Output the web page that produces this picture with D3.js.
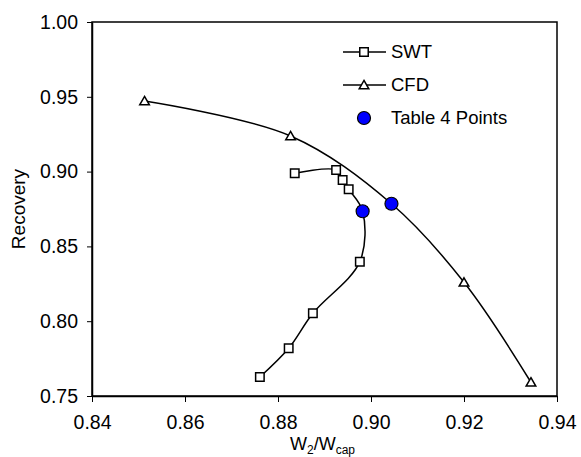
<!DOCTYPE html>
<html>
<head>
<meta charset="utf-8">
<script src="https://cdn.jsdelivr.net/npm/d3@7"></script>
<style>
  body { margin: 0; background: #fff; }
  svg text { font-family: "Liberation Sans", Arial, sans-serif; fill: #000; }
</style>
</head>
<body>
<div id="chart"></div>
<script>
// data
const swtX = [0.8761, 0.8823, 0.8875, 0.8976, 0.8982, 0.8952, 0.8939, 0.8925, 0.8836];
const swtY = [0.7627, 0.7819, 0.8053, 0.8398, 0.8735, 0.8882, 0.8944, 0.9011, 0.8989];
const cfdX = [0.8513, 0.8827, 0.9044, 0.9200, 0.9344];
const cfdY = [0.9472, 0.9238, 0.8785, 0.8260, 0.7592];
const tableX = [0.8982, 0.9044];
const tableY = [0.8735, 0.8785];
const xTicks = [0.84, 0.86, 0.88, 0.90, 0.92, 0.94];
const yTicks = [0.75, 0.80, 0.85, 0.90, 0.95, 1.00];
const legendLabels = ["SWT", "CFD", "Table 4 Points"];

const C = { WIDTH: 581, HEIGHT: 457, LEFT: 92, RIGHT: 557, TOP: 22, BOTTOM: 396 };

const svg = d3.select("#chart").append("svg")
  .attr("width", C.WIDTH).attr("height", C.HEIGHT);

const x = d3.scaleLinear().domain([0.84, 0.94]).range([C.LEFT, C.RIGHT]);
const y = d3.scaleLinear().domain([0.75, 1.00]).range([C.BOTTOM, C.TOP]);

// frame
svg.append("rect")
  .attr("x", C.LEFT).attr("y", C.TOP)
  .attr("width", C.RIGHT - C.LEFT).attr("height", C.BOTTOM - C.TOP)
  .attr("fill", "none").attr("stroke", "#000").attr("stroke-width", 1.5);

// axes
const xAxis = svg.append("g")
  .attr("transform", `translate(0, ${C.BOTTOM})`)
  .call(d3.axisBottom(x).tickValues(xTicks).tickFormat(d3.format(".2f")).tickSize(6).tickSizeOuter(0));
const yAxis = svg.append("g")
  .attr("transform", `translate(${C.LEFT}, 0)`)
  .call(d3.axisLeft(y).tickValues(yTicks).tickFormat(d3.format(".2f")).tickSize(5).tickSizeOuter(0));

[xAxis, yAxis].forEach(a => {
  a.select(".domain").attr("stroke", "#000").attr("stroke-width", 1.5);
  a.selectAll(".tick line").attr("stroke", "#000").attr("stroke-width", 1);
  a.selectAll(".tick text").attr("font-size", 19.5).attr("font-family", "Liberation Sans, Arial, sans-serif");
});
xAxis.selectAll(".tick text").attr("y", 33).attr("dy", 0);
yAxis.selectAll(".tick text").attr("x", -14);

// axis titles
const xTitle = svg.append("text")
  .attr("x", (C.LEFT + C.RIGHT) / 2 - 2).attr("y", 450)
  .attr("text-anchor", "middle").attr("font-size", 18);
xTitle.append("tspan").text("W");
xTitle.append("tspan").attr("font-size", 12).attr("dy", 3.5).text("2");
xTitle.append("tspan").attr("dy", -3.5).text("/W");
xTitle.append("tspan").attr("font-size", 12).attr("dy", 3.5).text("cap");

svg.append("text")
  .attr("transform", `translate(25, ${(C.TOP + C.BOTTOM) / 2}) rotate(-90)`)
  .attr("text-anchor", "middle").attr("font-size", 19)
  .text("Recovery");

// series
const swt = swtX.map((d, i) => [d, swtY[i]]);
const cfd = cfdX.map((d, i) => [d, cfdY[i]]);
const table = tableX.map((d, i) => [d, tableY[i]]);

const line = d3.line().x(d => x(d[0])).y(d => y(d[1])).curve(d3.curveCatmullRom.alpha(0.5));

svg.append("path").datum(swt).attr("d", line)
  .attr("fill", "none").attr("stroke", "#000").attr("stroke-width", 1.5);
svg.append("path").datum(cfd).attr("d", line)
  .attr("fill", "none").attr("stroke", "#000").attr("stroke-width", 1.5);

const square = d3.symbol().type(d3.symbolSquare).size(72);
const triangle = d3.symbol().type(d3.symbolTriangle).size(40);

svg.append("g").selectAll("path").data(swt).join("path")
  .attr("transform", d => `translate(${x(d[0])}, ${y(d[1])})`)
  .attr("d", square).attr("fill", "#fff").attr("stroke", "#000").attr("stroke-width", 1.5);

svg.append("g").selectAll("path").data(cfd).join("path")
  .attr("transform", d => `translate(${x(d[0])}, ${y(d[1]) + 1})`)
  .attr("d", triangle).attr("fill", "#fff").attr("stroke", "#000").attr("stroke-width", 1.5);

svg.append("g").selectAll("circle").data(table).join("circle")
  .attr("cx", d => x(d[0])).attr("cy", d => y(d[1])).attr("r", 6.5)
  .attr("fill", "#0000ff").attr("stroke", "#000").attr("stroke-width", 1.2);

// legend
const legend = svg.append("g").attr("transform", "translate(364, 52)");
legendLabels.forEach((label, i) => {
  const g = legend.append("g").attr("transform", `translate(0, ${i * 33})`);
  if (i < 2) {
    g.append("line").attr("x1", -21).attr("x2", 22).attr("y1", 0).attr("y2", 0)
      .attr("stroke", "#000").attr("stroke-width", 1.5);
    g.append("path").attr("d", i === 0 ? square : triangle)
      .attr("transform", i === 0 ? "translate(0,0)" : "translate(0,1)")
      .attr("fill", "#fff").attr("stroke", "#000").attr("stroke-width", 1.5);
  } else {
    g.append("circle").attr("r", 6.5).attr("fill", "#0000ff")
      .attr("stroke", "#000").attr("stroke-width", 1.2);
  }
  g.append("text").attr("x", 27).attr("y", 0).attr("dy", "0.35em")
    .attr("font-size", 18.5).text(label);
});
</script>
</body>
</html>
